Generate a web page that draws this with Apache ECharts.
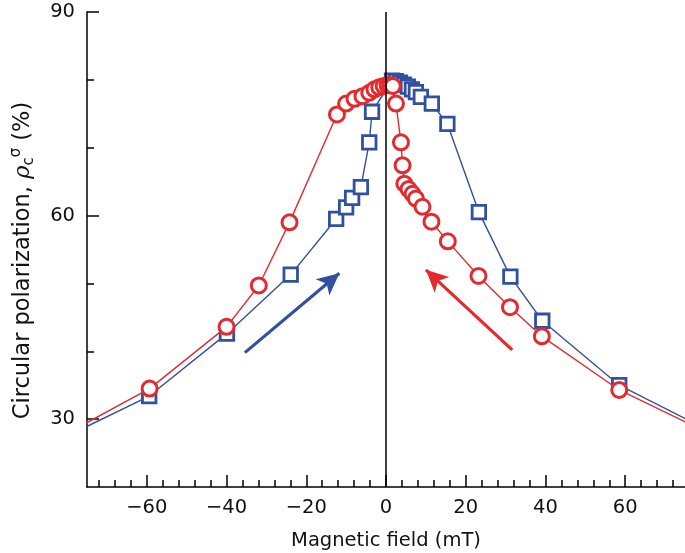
<!DOCTYPE html>
<html>
<head>
<meta charset="utf-8">
<script src="https://cdn.jsdelivr.net/npm/echarts@6/dist/echarts.min.js"></script>
<style>html,body{margin:0;padding:0;background:#fff}#c{width:685px;height:553px}</style>
</head>
<body>
<div id="c"></div>
<script>
// ---- data ----
const blueSquares = [
  [-80, 27.5], [-59.4, 33.4], [-39.9, 42.6], [-23.9, 51.3], [-12.5, 59.5], [-10, 61.2],
  [-8.5, 62.6], [-6.3, 64.2], [-4.2, 70.8], [-3.5, 75.3], [1.5, 79.9], [2.5, 79.8],
  [3.5, 79.6], [4.5, 79.3], [5.5, 79.0], [6.5, 78.6], [7.5, 78.2], [8.75, 77.5],
  [11.5, 76.5], [15.4, 73.5], [23.3, 60.5], [31.2, 51.0], [39.2, 44.5], [58.5, 35.0], [80, 28.6]
];
const redCircles = [
  [-80, 27.9], [-59.3, 34.5], [-40, 43.6], [-31.9, 49.7], [-24.2, 59.0], [-12.3, 74.9],
  [-10, 76.5], [-7.9, 77.2], [-5.9, 77.6], [-4.2, 78.1], [-2.9, 78.6], [-1.7, 78.9],
  [-0.6, 79.1], [0.4, 79.2], [1.1, 79.2], [1.7, 79.1], [2.5, 76.5], [3.75, 70.8],
  [4.15, 67.4], [4.6, 64.7], [5.65, 63.9], [6.65, 63.2], [7.5, 62.5], [9.15, 61.3],
  [11.4, 59.1], [15.5, 56.2], [23.2, 51.1], [31.1, 46.5], [39.1, 42.2], [58.5, 34.3], [80, 28.2]
];
const blueArrow = [[-35.4, 39.8], [-11.7, 51.5]];
const redArrow = [[31.65, 40.2], [10.0, 52.0]];
const xMajorTicks = [-60, -40, -20, 0, 20, 40, 60];
const xMinorTicks = [-72, -68, -64, -56, -52, -48, -44, -36, -32, -28, -24, -16, -12, -8, -4,
  4, 8, 12, 16, 24, 28, 32, 36, 44, 48, 52, 56, 64, 68, 72];
const yMajorTicks = [30, 60, 90];
const yMinorTicks = [40, 50, 70, 80];
const xRange = [-75, 75];
const yRange = [20, 90];

// ---- styling ----
const RED = '#e42a2f';
const BLUE = '#3150a0';
const FONT = 'DejaVu Sans, Verdana, sans-serif';
const TXT = '#111';
const fmt = v => (v < 0 ? '\u2212' + Math.abs(v) : String(v));
const axisLine = { show: true, onZero: false, lineStyle: { color: '#000', width: 1.5 } };

const chart = echarts.init(document.getElementById('c'), null, { renderer: 'canvas' });
chart.setOption({
  animation: false,
  backgroundColor: '#fff',
  textStyle: { fontFamily: FONT },
  grid: { left: 87, right: 0, top: 12, bottom: 66, containLabel: false, outerBoundsMode: 'none' },
  xAxis: [
    {
      type: 'value', position: 'bottom', min: xRange[0], max: xRange[1],
      axisLine: axisLine,
      axisTick: { show: true, inside: true, length: 12, lineStyle: { color: '#000', width: 1.5 }, customValues: xMajorTicks },
      axisLabel: { show: true, customValues: xMajorTicks, formatter: fmt, fontSize: 19.5, color: TXT, margin: 11, fontFamily: FONT },
      splitLine: { show: false },
      name: 'Magnetic field (mT)', nameLocation: 'middle', nameGap: 44,
      nameTextStyle: { fontSize: 19.5, color: TXT, fontFamily: FONT }
    },
    {
      type: 'value', position: 'bottom', min: xRange[0], max: xRange[1],
      axisLine: { show: false, onZero: false },
      axisTick: { show: true, inside: true, length: 7, lineStyle: { color: '#000', width: 1.5 }, customValues: xMinorTicks },
      axisLabel: { show: false },
      splitLine: { show: false }
    }
  ],
  yAxis: [
    {
      type: 'value', position: 'left', min: yRange[0], max: yRange[1],
      axisLine: axisLine,
      axisTick: { show: true, inside: true, length: 12, lineStyle: { color: '#000', width: 1.5 }, customValues: yMajorTicks },
      axisLabel: { show: true, customValues: yMajorTicks, fontSize: 19.5, color: TXT, margin: 12, fontFamily: FONT },
      splitLine: { show: false },
      name: '{t|Circular polarization, }{i|\u03c1}{s|c}{u|\u03c3}{t| (%)}',
      nameLocation: 'middle', nameGap: 50, nameRotate: 90,
      nameTextStyle: {
        color: TXT, fontFamily: FONT, padding: [0, 22, 0, 0],
        rich: {
          t: { fontSize: 22.5, color: TXT, fontFamily: FONT, lineHeight: 28 },
          i: { fontSize: 22.5, color: TXT, fontFamily: 'DejaVu Serif', fontStyle: 'italic', lineHeight: 28 },
          s: { fontSize: 15, color: TXT, fontFamily: FONT, lineHeight: 15, verticalAlign: 'bottom' },
          u: { fontSize: 15, color: TXT, fontFamily: FONT, lineHeight: 15, verticalAlign: 'top' }
        }
      }
    },
    {
      type: 'value', position: 'left', min: yRange[0], max: yRange[1],
      axisLine: { show: false, onZero: false },
      axisTick: { show: true, inside: true, length: 7, lineStyle: { color: '#000', width: 1.5 }, customValues: yMinorTicks },
      axisLabel: { show: false },
      splitLine: { show: false }
    }
  ],
  series: [
    {
      type: 'line', name: 'zero', data: [], xAxisIndex: 0, yAxisIndex: 0, silent: true,
      markLine: {
        silent: true, symbol: ['none', 'none'], label: { show: false },
        lineStyle: { color: '#000', width: 1.5, type: 'solid' },
        data: [{ xAxis: 0 }], animation: false
      }
    },
    {
      type: 'line', name: 'blue', data: blueSquares, xAxisIndex: 0, yAxisIndex: 0,
      symbol: 'rect', symbolSize: 13.5, showAllSymbol: true,
      lineStyle: { color: BLUE, width: 1.4 },
      itemStyle: { color: '#fff', borderColor: BLUE, borderWidth: 2.8 },
      z: 3,
      markLine: {
        silent: true, symbol: ['none', 'arrow'], symbolSize: [16, 22], label: { show: false },
        lineStyle: { color: BLUE, width: 3.2, type: 'solid' },
        data: [[{ coord: blueArrow[0] }, { coord: blueArrow[1] }]], animation: false
      }
    },
    {
      type: 'line', name: 'red', data: redCircles, xAxisIndex: 0, yAxisIndex: 0,
      symbol: 'circle', symbolSize: 15, showAllSymbol: true,
      lineStyle: { color: RED, width: 1.4 },
      itemStyle: { color: '#fff', borderColor: RED, borderWidth: 3 },
      z: 4,
      markLine: {
        silent: true, symbol: ['none', 'arrow'], symbolSize: [16, 22], label: { show: false },
        lineStyle: { color: RED, width: 3.2, type: 'solid' },
        data: [[{ coord: redArrow[0] }, { coord: redArrow[1] }]], animation: false
      }
    }
  ]
});
</script>
</body>
</html>
